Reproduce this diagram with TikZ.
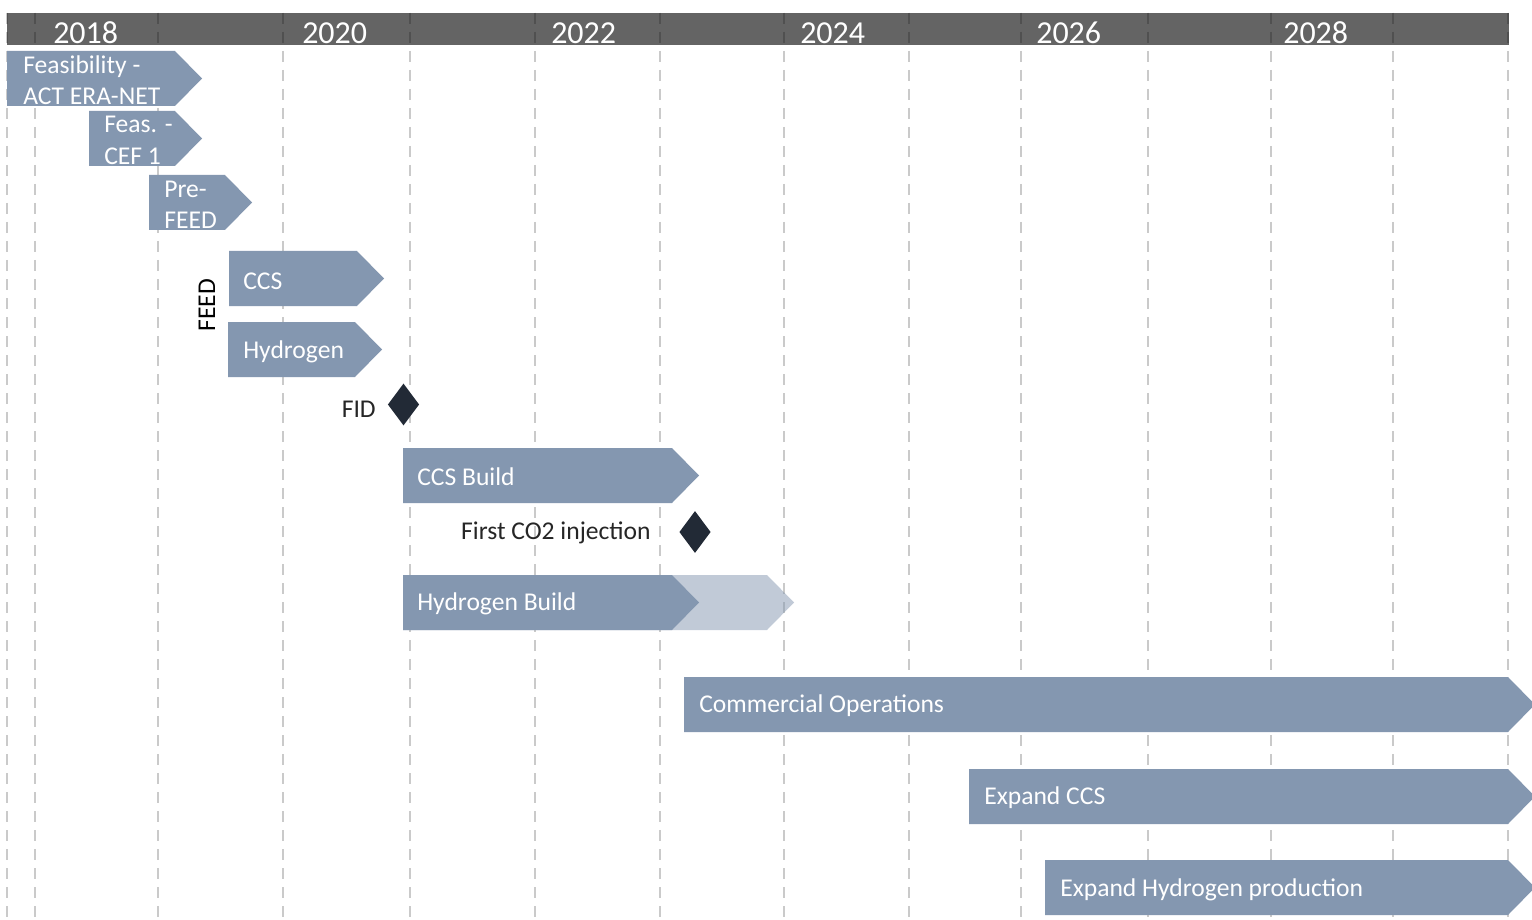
\documentclass[tikz,border=0pt]{standalone}
\usepackage{fontspec}
\setmainfont{Carlito}
\usetikzlibrary{shapes.geometric}
\definecolor{barfill}{HTML}{8497B0}
\definecolor{hdr}{HTML}{646464}
\definecolor{gridc}{HTML}{CACACA}
\definecolor{gridd}{HTML}{505050}
\definecolor{mile}{HTML}{222A36}
\definecolor{txt}{HTML}{262626}
\tikzset{
  gridline/.style={draw=gridc, line width=1.5pt, dash pattern=on 8.25pt off 6pt},
  gridbar/.style={draw=gridd, line width=1.5pt, dash pattern=on 8.25pt off 6pt},
  chev/.style={fill=barfill},
  chevlight/.style={fill=barfill, fill opacity=0.5},
  bartext/.style={anchor=west, text=white, font=\fontsize{19.2}{23.5}\selectfont, align=left, inner sep=0pt},
  yeartext/.style={anchor=base west, text=white, font=\fontsize{24}{28}\selectfont, inner sep=0pt},
  plaintext/.style={text=txt, font=\fontsize{19.2}{23}\selectfont, inner sep=0pt},
  milestone/.style={diamond, fill=mile, inner sep=0pt, minimum width=23.5pt, minimum height=31.5pt, aspect=0.74},
}
% chevron: x-left, x-body-end, y-top, style
\newcommand{\chevshape}[4]{\fill[#4] (#1,#3) -- (#2,#3) -- (#2+27,#3+27.5) -- (#2,#3+55) -- (#1,#3+55) -- cycle;}
\begin{document}
\begin{tikzpicture}[x=0.75pt, y=-0.75pt]
\useasboundingbox (0,0) rectangle (1532,920);
\clip (0,0) rectangle (1532,920);
\fill[white] (0,0) rectangle (1532,920);
% grid lines
\foreach \gx in {7,35,158,283,410,535,660,784,909,1021,1148,1271,1393,1508}
  \draw[gridline] (\gx,13) -- (\gx,920);
% header bar
\fill[hdr] (7,13) rectangle (1509,45);
\begin{scope}
  \clip (7,13) rectangle (1509,45);
  \foreach \gx in {7,35,158,283,410,535,660,784,909,1021,1148,1271,1393,1508}
    \draw[gridbar] (\gx,13) -- (\gx,920);
\end{scope}
\node[yeartext] (y2018) at (53,44) {2018};
\node[yeartext] (y2020) at (302,44) {2020};
\node[yeartext] (y2022) at (551,44) {2022};
\node[yeartext] (y2024) at (800,44) {2024};
\node[yeartext] (y2026) at (1036,44) {2026};
\node[yeartext] (y2028) at (1283,44) {2028};
% phases
\chevshape{7}{175}{51}{chev}
\node[bartext] (feas) at (23,80.5) {Feasibility -\\ACT ERA-NET};
\chevshape{89}{175}{111}{chev}
\node[bartext] (cef) at (104,140.5) {Feas. -\\CEF 1};
\chevshape{149}{225}{175}{chev}
\node[bartext] (prefeed) at (164,204.5) {Pre-\\FEED};
\chevshape{229}{357}{251}{chev}
\node[bartext] (ccs) at (243,281) {CCS};
\chevshape{228}{355}{322}{chev}
\node[bartext] (hyd) at (243,352) {Hydrogen};
\node[plaintext, rotate=90, text=black] (feed) at (207,305) {FEED};
\node[milestone] (fid) at (403.5,404.5) {};
\node[plaintext, anchor=east] (fidlab) at (376,409) {FID};
\chevshape{403}{672}{448}{chev}
\node[bartext] (ccsbuild) at (417,477) {CCS Build};
\node[milestone] (inj) at (695,532) {};
\node[plaintext, anchor=east] (injlab) at (651,533) {First CO2 injection};
\chevshape{403}{767}{575}{chevlight}
\chevshape{403}{672}{575}{chev}
\node[bartext] (hydbuild) at (417,604) {Hydrogen Build};
\chevshape{684}{1508}{677}{chev}
\node[bartext] (ops) at (699,706) {Commercial Operations};
\chevshape{969}{1508}{769}{chev}
\node[bartext] (expccs) at (984,798) {Expand CCS};
\chevshape{1045}{1508}{860}{chev}
\node[bartext] (exphyd) at (1060,890) {Expand Hydrogen production};
\end{tikzpicture}
\end{document}
